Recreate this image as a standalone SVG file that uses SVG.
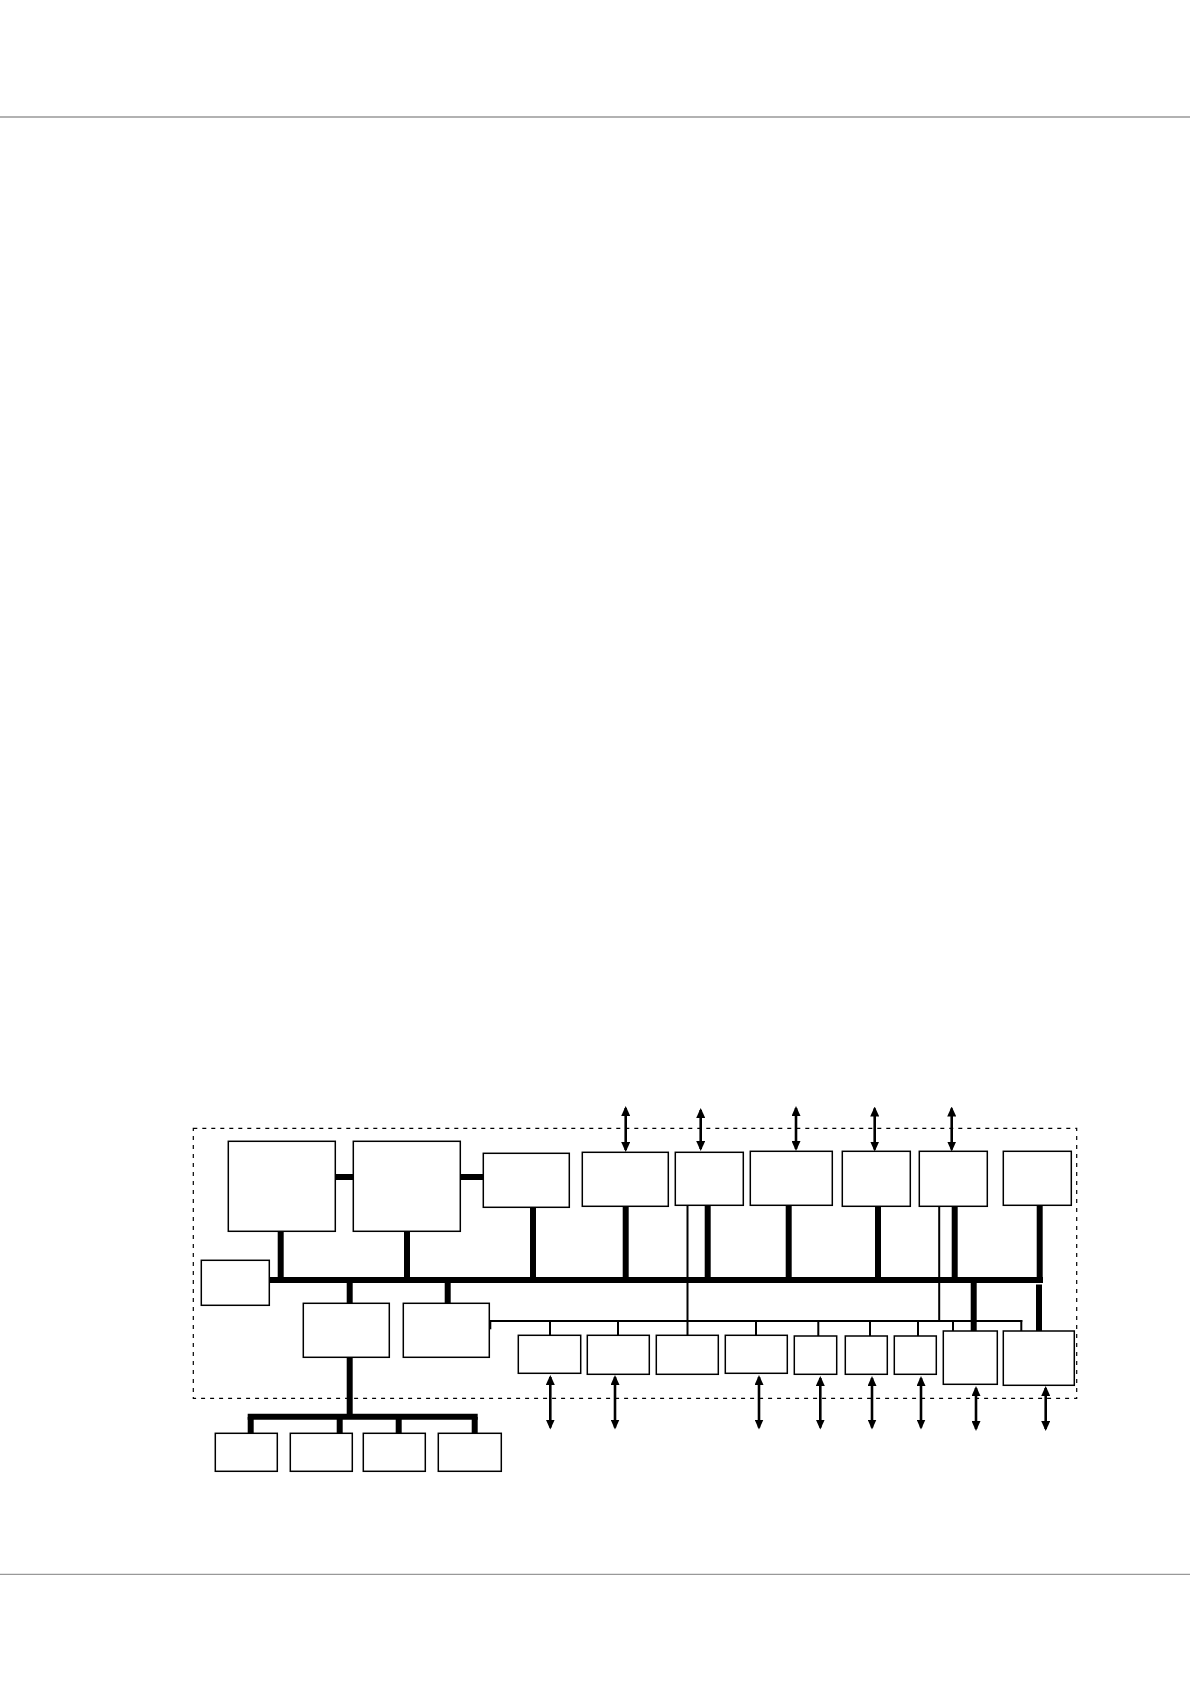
<svg xmlns="http://www.w3.org/2000/svg" width="1190" height="1684" viewBox="0 0 1190 1684">
<defs>
<marker id="ah" viewBox="0 0 10 9" markerWidth="10" markerHeight="9" refX="8" refY="4.5" orient="auto-start-reverse" markerUnits="userSpaceOnUse">
<path d="M0,0 L10,4.5 L0,9 z" fill="#000"/>
</marker>
</defs>
<style>
.box{fill:#fff;stroke:#000;stroke-width:1.5}
.thick{stroke:#000;stroke-width:6;fill:none}
.thin{stroke:#000;stroke-width:2;fill:none}
.arr{stroke:#000;stroke-width:2.6;fill:none;marker-start:url(#ah);marker-end:url(#ah)}
.rule{stroke:#999;stroke-width:1.3}
.frame{fill:none;stroke:#000;stroke-width:1.2;stroke-dasharray:4 5}
</style>
<rect width="1190" height="1684" fill="#fff"/>
<line class="rule" x1="0" y1="117" x2="1190" y2="117"/>
<line class="rule" x1="0" y1="1574.3" x2="1190" y2="1574.3"/>
<rect class="frame" x="193.3" y="1128.3" width="883.4" height="270"/>

<g id="connectors">
<line class="thick" x1="335" y1="1177" x2="353.5" y2="1177"/>
<line class="thick" x1="460" y1="1177" x2="483.5" y2="1177"/>
<line class="thick" x1="269" y1="1280" x2="1043" y2="1280"/>
<line class="thick" x1="280.7" y1="1231" x2="280.7" y2="1280"/>
<line class="thick" x1="407" y1="1231" x2="407" y2="1280"/>
<line class="thick" x1="533" y1="1207" x2="533" y2="1280"/>
<line class="thick" x1="625.7" y1="1206" x2="625.7" y2="1280"/>
<line class="thick" x1="707.7" y1="1204" x2="707.7" y2="1280"/>
<line class="thick" x1="788.7" y1="1203" x2="788.7" y2="1280"/>
<line class="thick" x1="878" y1="1204" x2="878" y2="1280"/>
<line class="thick" x1="954.7" y1="1206" x2="954.7" y2="1280"/>
<line class="thick" x1="1039.7" y1="1205" x2="1039.7" y2="1283"/>
<line class="thick" x1="349.7" y1="1280" x2="349.7" y2="1303.5"/>
<line class="thick" x1="447.7" y1="1280" x2="447.7" y2="1303.5"/>
<line class="thick" x1="973.7" y1="1280" x2="973.7" y2="1331"/>
<line class="thick" x1="1039" y1="1284.5" x2="1039" y2="1331"/>
<line class="thick" x1="349.7" y1="1357" x2="349.7" y2="1417"/>
<line class="thick" x1="247.7" y1="1416.7" x2="477.7" y2="1416.7"/>
<line class="thick" x1="250.7" y1="1417" x2="250.7" y2="1433.5"/>
<line class="thick" x1="339.7" y1="1417" x2="339.7" y2="1433.5"/>
<line class="thick" x1="398.7" y1="1417" x2="398.7" y2="1433.5"/>
<line class="thick" x1="474.7" y1="1417" x2="474.7" y2="1433.5"/>

<line class="thin" x1="489" y1="1321" x2="1022.3" y2="1321"/>
<line class="thin" x1="490.3" y1="1320" x2="490.3" y2="1329.3"/>
<line class="thin" x1="1021.3" y1="1320" x2="1021.3" y2="1331"/>
<line class="thin" x1="550" y1="1321" x2="550" y2="1335.5"/>
<line class="thin" x1="618" y1="1321" x2="618" y2="1335.5"/>
<line class="thin" x1="687.5" y1="1205" x2="687.5" y2="1335.5"/>
<line class="thin" x1="756" y1="1321" x2="756" y2="1335.5"/>
<line class="thin" x1="818.3" y1="1321" x2="818.3" y2="1336"/>
<line class="thin" x1="870" y1="1321" x2="870" y2="1336"/>
<line class="thin" x1="918" y1="1321" x2="918" y2="1336"/>
<line class="thin" x1="953" y1="1321" x2="953" y2="1331"/>
<line class="thin" x1="939.2" y1="1206" x2="939.2" y2="1321"/>

<line class="arr" x1="625.7" y1="1108" x2="625.7" y2="1150"/>
<line class="arr" x1="700.7" y1="1110" x2="700.7" y2="1149"/>
<line class="arr" x1="796" y1="1108" x2="796" y2="1149"/>
<line class="arr" x1="874.7" y1="1108.5" x2="874.7" y2="1149.5"/>
<line class="arr" x1="951.7" y1="1108.5" x2="951.7" y2="1149.5"/>
<line class="arr" x1="550.3" y1="1377" x2="550.3" y2="1427.5"/>
<line class="arr" x1="615" y1="1377" x2="615" y2="1427.5"/>
<line class="arr" x1="759" y1="1377" x2="759" y2="1427.5"/>
<line class="arr" x1="820.3" y1="1378" x2="820.3" y2="1427.5"/>
<line class="arr" x1="872" y1="1378" x2="872" y2="1427.5"/>
<line class="arr" x1="921" y1="1378" x2="921" y2="1427.5"/>
<line class="arr" x1="976" y1="1388" x2="976" y2="1429"/>
<line class="arr" x1="1045.7" y1="1388" x2="1045.7" y2="1429"/>
</g>

<g id="n1"><rect class="box" x="228.3" y="1141.3" width="107" height="90"/></g>
<g id="n2"><rect class="box" x="353.3" y="1141.3" width="107" height="90"/></g>
<g id="n3"><rect class="box" x="483.3" y="1153.3" width="86" height="54"/></g>
<g id="n4"><rect class="box" x="582.3" y="1152.3" width="86" height="54"/></g>
<g id="n5"><rect class="box" x="675.3" y="1152.3" width="68" height="53"/></g>
<g id="n6"><rect class="box" x="750.3" y="1151.3" width="82" height="54"/></g>
<g id="n7"><rect class="box" x="842.3" y="1151.3" width="68" height="55"/></g>
<g id="n8"><rect class="box" x="919.3" y="1151.3" width="68" height="55"/></g>
<g id="n9"><rect class="box" x="1003.3" y="1151.3" width="68" height="54"/></g>
<g id="n10"><rect class="box" x="201.3" y="1260.3" width="68" height="45"/></g>
<g id="n11"><rect class="box" x="303.3" y="1303.3" width="86" height="54"/></g>
<g id="n12"><rect class="box" x="403.3" y="1303.3" width="86" height="54"/></g>
<g id="n13"><rect class="box" x="518.3" y="1335.3" width="62.4" height="38"/></g>
<g id="n14"><rect class="box" x="587.3" y="1335.3" width="62" height="39"/></g>
<g id="n15"><rect class="box" x="656.3" y="1335.3" width="62" height="39"/></g>
<g id="n16"><rect class="box" x="725.3" y="1335.3" width="62" height="38"/></g>
<g id="n17"><rect class="box" x="794.3" y="1336" width="42.4" height="38.3"/></g>
<g id="n18"><rect class="box" x="845.3" y="1336" width="42" height="38.3"/></g>
<g id="n19"><rect class="box" x="894.3" y="1336" width="42" height="38.3"/></g>
<g id="n20"><rect class="box" x="943.3" y="1331" width="54" height="53.3"/></g>
<g id="n21"><rect class="box" x="1003.3" y="1331" width="71" height="54.3"/></g>
<g id="n22"><rect class="box" x="215.3" y="1433.3" width="62" height="38"/></g>
<g id="n23"><rect class="box" x="290.3" y="1433.3" width="62" height="38"/></g>
<g id="n24"><rect class="box" x="363.3" y="1433.3" width="62" height="38"/></g>
<g id="n25"><rect class="box" x="438.3" y="1433.3" width="63" height="38"/></g>
</svg>
